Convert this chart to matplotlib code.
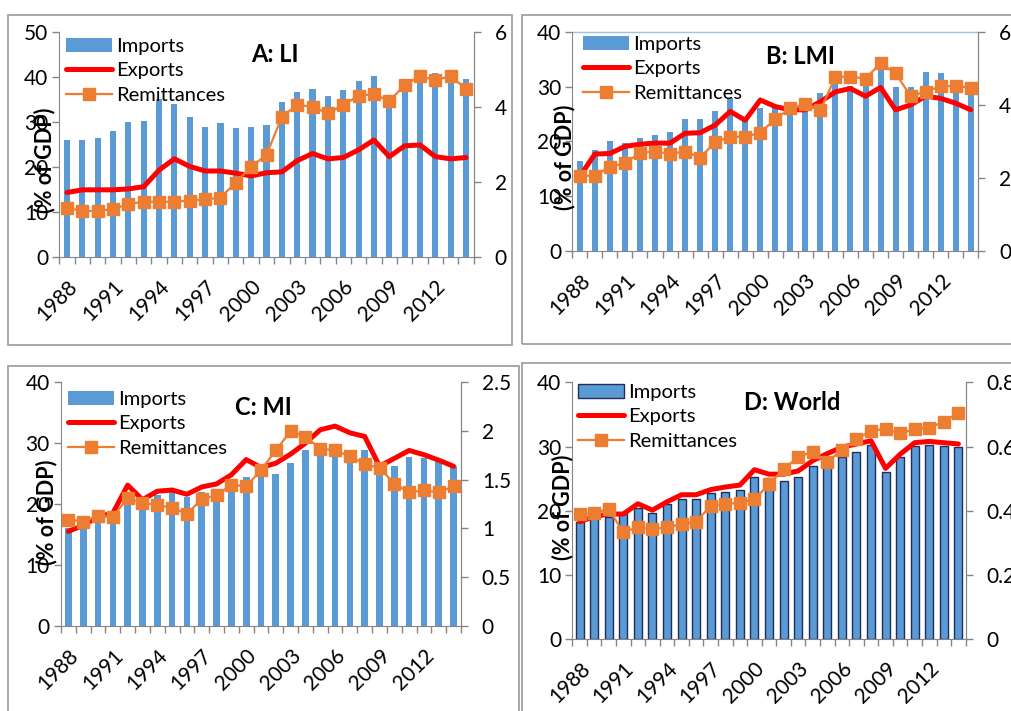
import matplotlib
matplotlib.use("Agg")
import matplotlib.pyplot as plt
import matplotlib.patches as patches
import numpy as np

# ---- data ----
years = list(range(1988, 2015))

li_imports = [26.0, 26.0, 26.4, 28.0, 30.0, 30.3, 35.2, 34.1, 31.2, 29.0, 29.9, 28.6, 29.0, 29.3,
              34.5, 36.8, 37.4, 35.8, 37.1, 39.1, 40.3, 36.0, 38.5, 40.0, 41.0, 40.8, 39.7]
li_exports = [14.3, 14.9, 14.9, 14.9, 15.1, 15.6, 19.3, 21.8, 20.1, 19.1, 19.1, 18.6, 18.0, 18.7,
              18.9, 21.4, 23.0, 21.8, 22.1, 23.8, 26.0, 22.3, 24.7, 24.9, 22.3, 21.8, 22.1]
li_remit = [1.31, 1.22, 1.22, 1.27, 1.41, 1.47, 1.47, 1.47, 1.50, 1.53, 1.58, 1.98, 2.41, 2.72,
            3.74, 4.06, 4.01, 3.83, 4.06, 4.30, 4.35, 4.16, 4.59, 4.83, 4.72, 4.83, 4.48]

lmi_imports = [16.5, 18.4, 20.1, 19.8, 20.6, 21.2, 21.7, 24.1, 24.1, 25.5, 27.9, 24.5, 26.1, 26.4,
               25.8, 25.8, 28.8, 31.0, 30.2, 31.0, 33.7, 29.9, 30.0, 32.8, 32.6, 29.4, 28.8]
lmi_exports = [13.6, 17.7, 17.8, 19.1, 19.5, 19.7, 19.7, 21.5, 21.6, 23.0, 25.5, 23.9, 27.6, 26.4,
               25.8, 25.8, 27.3, 29.1, 29.7, 28.3, 29.9, 25.8, 26.7, 28.3, 27.9, 27.0, 25.8]
lmi_remit = [2.06, 2.06, 2.31, 2.40, 2.69, 2.72, 2.67, 2.72, 2.56, 2.98, 3.13, 3.13, 3.24, 3.62,
             3.91, 4.03, 3.86, 4.78, 4.78, 4.73, 5.15, 4.87, 4.25, 4.37, 4.52, 4.52, 4.48]

mi_imports = [16.0, 16.8, 17.5, 17.6, 21.1, 19.8, 21.5, 21.9, 21.2, 22.0, 22.3, 23.3, 24.5, 25.9,
              25.0, 26.8, 28.9, 28.8, 28.8, 27.2, 28.9, 24.8, 26.2, 27.8, 27.5, 27.0, 26.2]
mi_exports = [15.5, 16.5, 17.9, 18.5, 23.1, 20.7, 22.1, 22.3, 21.6, 22.8, 23.3, 24.8, 27.3, 26.0,
              26.7, 28.2, 30.0, 32.2, 32.8, 31.7, 31.1, 26.2, 27.5, 28.8, 28.1, 27.2, 26.2]
mi_remit = [1.09, 1.07, 1.13, 1.12, 1.31, 1.26, 1.24, 1.21, 1.15, 1.30, 1.34, 1.45, 1.43, 1.60,
            1.80, 2.00, 1.94, 1.82, 1.80, 1.74, 1.66, 1.62, 1.46, 1.37, 1.39, 1.37, 1.43]

world_imports = [18.3, 19.0, 19.1, 19.5, 20.4, 19.6, 21.1, 21.9, 21.9, 22.8, 23.0, 23.2, 25.3, 25.1,
                 24.7, 25.3, 26.9, 27.9, 28.4, 29.2, 30.2, 26.0, 28.3, 30.1, 30.2, 30.1, 29.9]
world_exports = [18.3, 19.1, 19.5, 19.5, 21.1, 20.1, 21.4, 22.5, 22.5, 23.3, 23.7, 24.0, 26.4, 25.7,
                 25.7, 26.2, 27.8, 28.9, 29.9, 30.4, 30.9, 26.6, 28.8, 30.6, 30.8, 30.6, 30.4]
world_remit = [0.389, 0.394, 0.405, 0.333, 0.349, 0.342, 0.349, 0.358, 0.366, 0.416, 0.421, 0.425,
               0.436, 0.483, 0.529, 0.568, 0.584, 0.551, 0.590, 0.623, 0.649, 0.655, 0.641, 0.654,
               0.659, 0.677, 0.705]

W, H = 1012, 711
BLUE = "#5B9BD5"
RED = "#FF0000"
ORANGE = "#ED7D31"
GRAY = "#868686"
FONT = ["Lato", "DejaVu Sans"]
TICK_FS = 15

plt.rcParams["font.family"] = FONT
fig = plt.figure(figsize=(W / 100, H / 100), dpi=100, facecolor="white")


def px_rect(x0, y0, x1, y1):
    # pixel box (top-left origin) -> figure fraction [l, b, w, h]
    return [x0 / W, 1 - y1 / H, (x1 - x0) / W, (y1 - y0) / H]


def draw_panel(box, ax_px, imports, exports, remit, left_max, right_max, right_step,
               right_fmt, title, title_px, ylabel_px, legend_px, bar_w, bar_edge=None):
    # panel border
    bx0, by0, bx1, by1 = box
    fig.patches.append(patches.Rectangle((bx0 / W, 1 - by1 / H), (bx1 - bx0) / W, (by1 - by0) / H,
                                         transform=fig.transFigure, fill=False,
                                         edgecolor="#9A9A9A", linewidth=1.2))
    ax = fig.add_axes(px_rect(*ax_px))
    x = np.arange(len(years))
    if bar_edge:
        bars = ax.bar(x, imports, width=bar_w, color=BLUE, edgecolor=bar_edge, linewidth=1.0,
                      zorder=1)
    else:
        bars = ax.bar(x, imports, width=bar_w, color=BLUE, zorder=1)
    ex_line, = ax.plot(x, exports, color=RED, linewidth=3.6, solid_capstyle="round",
                       solid_joinstyle="round", zorder=3)
    ax.set_xlim(-0.5, len(years) - 0.5)
    ax.set_ylim(0, left_max)
    ax.set_yticks(np.arange(0, left_max + 1, 10))
    ax.set_xticks(x[::3])
    ax.set_xticklabels([str(y) for y in years[::3]], rotation=45, ha="right",
                       rotation_mode="anchor")
    ax.set_xticks(np.arange(-0.5, len(years), 1), minor=True)
    ax.tick_params(axis="x", which="major", length=0, pad=14, labelsize=TICK_FS)
    ax.tick_params(axis="x", which="minor", length=5, color=GRAY, width=1, direction="out")
    ax.tick_params(axis="y", length=5, color=GRAY, width=1, labelsize=TICK_FS, pad=3)
    ax.spines["top"].set_visible(False)
    for s in ["left", "bottom", "right"]:
        ax.spines[s].set_color(GRAY)
    ax.set_facecolor("none")

    ax2 = ax.twinx()
    rem_line, = ax2.plot(x, remit, color=ORANGE, linewidth=1.6, marker="s", markersize=8,
                         markerfacecolor=ORANGE, markeredgecolor=ORANGE, zorder=4)
    ax2.set_ylim(0, right_max)
    ticks = np.arange(0, right_max + right_step / 2, right_step)
    ax2.set_yticks(ticks)
    ax2.set_yticklabels([right_fmt(t) for t in ticks])
    ax2.tick_params(axis="y", length=5, color=GRAY, width=1, labelsize=TICK_FS, pad=10)
    ax2.spines["top"].set_visible(False)
    ax2.spines["left"].set_visible(False)
    ax2.spines["bottom"].set_visible(False)
    ax2.spines["right"].set_color(GRAY)

    lx, ly = legend_px
    ax2.legend([bars, ex_line, rem_line], ["Imports", "Exports", "Remittances"],
               loc="upper left", bbox_to_anchor=(lx / W, 1 - ly / H),
               bbox_transform=fig.transFigure, frameon=False, fontsize=14.5,
               borderpad=0, borderaxespad=0, handlelength=2.3, handletextpad=0.2,
               labelspacing=0.36)

    tx, ty = title_px
    fig.text(tx / W, 1 - ty / H, title, ha="center", va="center", fontsize=17,
             fontweight="bold")
    yx, yy = ylabel_px
    fig.text(yx / W, 1 - yy / H, "(% of GDP)", ha="center", va="center", rotation=90,
             fontsize=15.5, fontweight="bold")
    return ax, ax2


def fmt_int(t):
    return "%d" % round(t)


def fmt_g(t):
    return "%g" % round(t, 2)


draw_panel((8, 15, 512, 345), (59.3, 32.3, 473.7, 256.7), li_imports, li_exports, li_remit,
           50, 6, 2, fmt_int, "A: LI", (275, 55), (45, 160), (66, 38), 0.4)
axB, _ = draw_panel((522, 15, 1030, 344), (572.3, 32.3, 978.3, 250.7), lmi_imports, lmi_exports,
                    lmi_remit, 40, 6, 2, fmt_int, "B: LMI", (800, 57), (565, 157), (583, 36), 0.4)
axB.plot([-0.5, 26.5], [40, 40], color="#9DC3E6", linewidth=1.0, clip_on=False)
draw_panel((8, 366, 519, 730), (61, 382.3, 461, 625.7), mi_imports, mi_exports, mi_remit,
           40, 2.5, 0.5, fmt_g, "C: MI", (263, 407), (47, 512), (68, 391), 0.45)
draw_panel((522, 363, 1030, 730), (572.3, 382.3, 965.7, 639.3), world_imports, world_exports,
           world_remit, 40, 0.8, 0.2, fmt_g, "D: World", (792, 403), (563, 507), (578, 384),
           0.55, bar_edge="#1F2F5A")

fig.savefig("out.png", dpi=100, facecolor="white")
